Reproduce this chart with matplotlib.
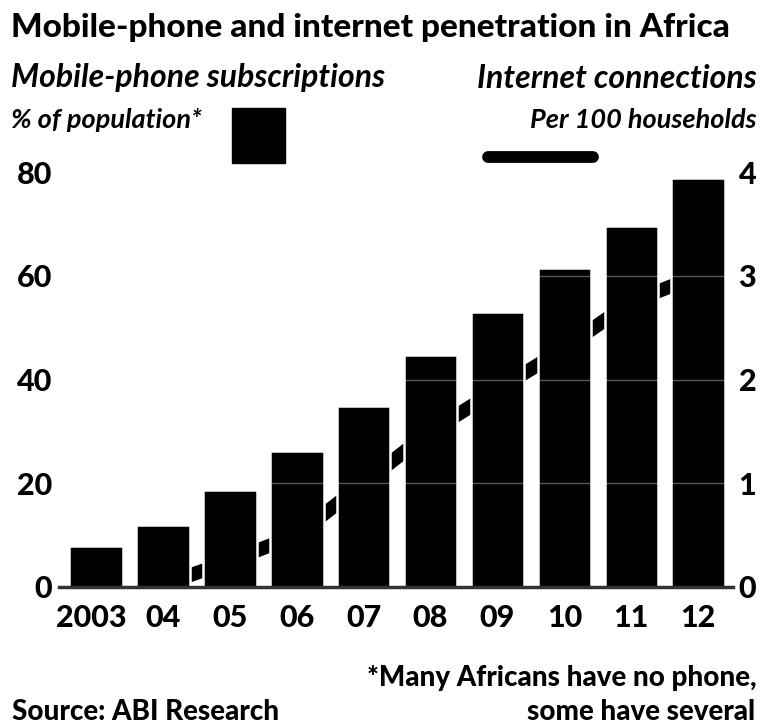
import matplotlib.pyplot as plt
from matplotlib.patches import Rectangle
from matplotlib.lines import Line2D
import matplotlib.transforms as mtransforms

years = ["2003", "04", "05", "06", "07", "08", "09", "10", "11", "12"]
mobile_pct = [8, 12, 18.7, 26.2, 34.8, 44.8, 53, 61.5, 69.6, 78.8]
internet_years = [1, 2, 3, 4, 5, 6, 7, 8, 9]
internet_per100 = [0.02, 0.25, 0.5, 1.0, 1.5, 1.9, 2.3, 2.75, 3.0]

W, H = 763, 728
plt.rcParams["font.family"] = ["Lato", "DejaVu Sans"]
HEAVY = "black"

fig = plt.figure(figsize=(W / 100, H / 100), dpi=100)
ax = fig.add_axes([59 / W, (H - 587) / H, (733 - 59) / W, (587 - 172) / H])
ax2 = ax.twinx()

x = list(range(len(years)))

# internet line sits behind the bars; white bar edges cut it cleanly
ax2.plot(internet_years, internet_per100, color="black", lw=10,
         solid_capstyle="butt", solid_joinstyle="round", zorder=1)
ax2.set_ylim(0, 4)

ax.set_zorder(ax2.get_zorder() + 1)
ax.patch.set_visible(False)
ax.bar(x, mobile_pct, width=0.8, color="black", edgecolor="white",
       linewidth=1.8, zorder=1)
ax.set_ylim(0, 80)
ax.set_xlim(-0.553, 9.52)

for g in (20, 40, 60):
    ax.axhline(g, color="white", lw=1.0, alpha=0.35, zorder=2)
ax.axhline(0, color="#333333", lw=2.5, zorder=3, clip_on=False)

for a in (ax, ax2):
    for s in a.spines.values():
        s.set_visible(False)
    a.tick_params(length=0)

ax.set_yticks([0, 20, 40, 60, 80])
ax.tick_params(axis="y", labelsize=22, pad=5)
ax2.set_yticks([0, 1, 2, 3, 4])
ax2.tick_params(axis="y", labelsize=22, pad=4)
for lab in ax.get_yticklabels() + ax2.get_yticklabels():
    lab.set_fontweight(HEAVY)

ax.set_xticks(x)
ax.set_xticklabels(years, fontsize=22, fontweight=HEAVY)
ax.tick_params(axis="x", pad=12)
first = ax.get_xticklabels()[0]
first.set_transform(first.get_transform() +
                    mtransforms.ScaledTranslation(-5 / 100, 0, fig.dpi_scale_trans))

fig.text(11 / W, 1 - 27 / H, "Mobile-phone and internet penetration in Africa",
         fontsize=24, fontweight=HEAVY, va="center", ha="left")
fig.text(11 / W, 1 - 78 / H, "Mobile-phone subscriptions",
         fontsize=23, style="italic", fontweight="bold", va="center", ha="left")
fig.text(11 / W, 1 - 120 / H, "% of population*",
         fontsize=19.5, style="italic", fontweight="bold", va="center", ha="left")
fig.text(757 / W, 1 - 78 / H, "Internet connections",
         fontsize=23, style="italic", fontweight="bold", va="center", ha="right")
fig.text(757 / W, 1 - 120 / H, "Per 100 households",
         fontsize=19.5, style="italic", fontweight="bold", va="center", ha="right")

# legend keys
fig.add_artist(Rectangle((232 / W, 1 - 163 / H), 53 / W, 55 / H,
                         transform=fig.transFigure, color="black"))
fig.add_artist(Line2D([488 / W, 593 / W], [1 - 157 / H, 1 - 157 / H],
                      transform=fig.transFigure, color="black", lw=8.5,
                      solid_capstyle="round"))

fig.text(12 / W, 1 - 712 / H, "Source: ABI Research",
         fontsize=20, fontweight=HEAVY, va="center", ha="left")
fig.text(757 / W, 1 - 678 / H, "*Many Africans have no phone,",
         fontsize=20, fontweight=HEAVY, va="center", ha="right")
fig.text(755 / W, 1 - 712 / H, "some have several",
         fontsize=20, fontweight=HEAVY, va="center", ha="right")

fig.savefig("out.png", dpi=100)
